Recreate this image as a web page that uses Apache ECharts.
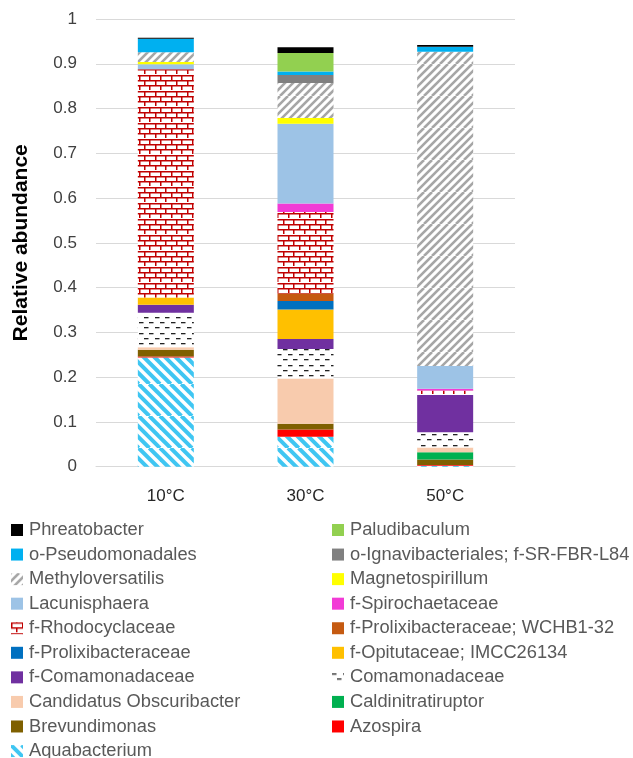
<!DOCTYPE html>
<html>
<head>
<meta charset="utf-8">
<script src="https://cdn.jsdelivr.net/npm/echarts@6/dist/echarts.min.js"></script>
<style>html,body{margin:0;padding:0;background:#fff;overflow:hidden}#c{width:633px;height:790px}</style>
</head>
<body>
<div id="c"></div>
<script>
// ---- data ----
var categories = ['10°C', '30°C', '50°C'];
var yTicks = [0, 0.1, 0.2, 0.3, 0.4, 0.5, 0.6, 0.7, 0.8, 0.9, 1];
// values per series, order: 10°C, 30°C, 50°C (bottom of stack first)
var aquabacterium      = [0.244, 0.067, 0.002];
var azospira           = [0.002, 0.016, 0.002];
var brevundimonas      = [0.015, 0.013, 0.012];
var caldinitratiruptor = [0.000, 0.000, 0.016];
var candidatusObscuri  = [0.006, 0.101, 0.011];
var comamonadaceae     = [0.077, 0.066, 0.034];
var fComamonadaceae    = [0.018, 0.022, 0.083];
var fOpitutaceae       = [0.016, 0.066, 0.000];
var fProlixibacter     = [0.000, 0.019, 0.000];
var fProlixWCHB        = [0.000, 0.017, 0.000];
var fRhodocyclaceae    = [0.510, 0.182, 0.010];
var fSpirochaetaceae   = [0.000, 0.019, 0.004];
var lacunisphaera      = [0.011, 0.178, 0.051];
var magnetospirillum   = [0.005, 0.013, 0.000];
var methyloversatilis  = [0.022, 0.078, 0.702];
var oIgnavibacteriales = [0.000, 0.018, 0.000];
var oPseudomonadales   = [0.030, 0.008, 0.011];
var paludibaculum      = [0.000, 0.041, 0.000];
var phreatobacter      = [0.002, 0.013, 0.004];

var seriesNames = [
  'Aquabacterium', 'Azospira', 'Brevundimonas', 'Caldinitratiruptor',
  'Candidatus Obscuribacter', 'Comamonadaceae', 'f-Comamonadaceae',
  'f-Opitutaceae; IMCC26134', 'f-Prolixibacteraceae', 'f-Prolixibacteraceae; WCHB1-32',
  'f-Rhodocyclaceae', 'f-Spirochaetaceae', 'Lacunisphaera', 'Magnetospirillum',
  'Methyloversatilis', 'o-Ignavibacteriales; f-SR-FBR-L84', 'o-Pseudomonadales',
  'Paludibaculum', 'Phreatobacter'
];
var seriesValues = [
  aquabacterium, azospira, brevundimonas, caldinitratiruptor, candidatusObscuri,
  comamonadaceae, fComamonadaceae, fOpitutaceae, fProlixibacter, fProlixWCHB,
  fRhodocyclaceae, fSpirochaetaceae, lacunisphaera, magnetospirillum,
  methyloversatilis, oIgnavibacteriales, oPseudomonadales, paludibaculum, phreatobacter
];
var legendLeft = ['Phreatobacter', 'o-Pseudomonadales', 'Methyloversatilis', 'Lacunisphaera',
  'f-Rhodocyclaceae', 'f-Prolixibacteraceae', 'f-Comamonadaceae', 'Candidatus Obscuribacter',
  'Brevundimonas', 'Aquabacterium'];
var legendRight = ['Paludibaculum', 'o-Ignavibacteriales; f-SR-FBR-L84', 'Magnetospirillum',
  'f-Spirochaetaceae', 'f-Prolixibacteraceae; WCHB1-32', 'f-Opitutaceae; IMCC26134',
  'Comamonadaceae', 'Caldinitratiruptor', 'Azospira'];

// ---- patterns ----
function tile(draw) {
  var c = document.createElement('canvas');
  c.width = 32; c.height = 32;
  var g = c.getContext('2d');
  g.fillStyle = '#ffffff'; g.fillRect(0, 0, 32, 32);
  draw(g);
  return { image: c, repeat: 'repeat' };
}
function diag(color, period, width, up) {
  return tile(function (g) {
    g.strokeStyle = color; g.lineWidth = width;
    for (var k = -64; k <= 64; k += period) {
      g.beginPath();
      if (up) { g.moveTo(k, 32); g.lineTo(k + 32, 0); }
      else { g.moveTo(k, 0); g.lineTo(k + 32, 32); }
      g.stroke();
    }
  });
}
var brick = tile(function (g) {
  g.fillStyle = '#C00000';
  var rh = 32 / 6, bw = 32 / 3;
  for (var r = 0; r < 6; r++) {
    var y = Math.round(r * rh);
    g.fillRect(0, y, 32, 1.5);
    var off = (r % 2) ? bw / 2 : 0;
    for (var b = -1; b < 4; b++) {
      var x = Math.round(off + b * bw);
      g.fillRect(x, y, 1.5, Math.round(rh));
    }
  }
});
var dashes = tile(function (g) {
  g.fillStyle = '#222222';
  var rh = 32 / 6, bw = 32 / 3;
  for (var r = 0; r < 6; r++) {
    var y = Math.round(r * rh + 2);
    var off = (r % 2) ? bw / 2 : 0;
    for (var b = -1; b < 4; b++) {
      var x = Math.round(off + b * bw);
      g.fillRect(x, y, 4.5, 1.3);
    }
  }
});

var colorMap = {
  'Aquabacterium': diag('#3FC6F2', 32 / 3, 4, false),
  'Azospira': '#FF0000',
  'Brevundimonas': '#7F6000',
  'Caldinitratiruptor': '#00B050',
  'Candidatus Obscuribacter': '#F8CBAD',
  'Comamonadaceae': dashes,
  'f-Comamonadaceae': '#7030A0',
  'f-Opitutaceae; IMCC26134': '#FFC000',
  'f-Prolixibacteraceae': '#0070C0',
  'f-Prolixibacteraceae; WCHB1-32': '#C55A11',
  'f-Rhodocyclaceae': brick,
  'f-Spirochaetaceae': '#F23BD6',
  'Lacunisphaera': '#9DC3E6',
  'Magnetospirillum': '#FFFF00',
  'Methyloversatilis': diag('#A6A6A6', 8, 2.6, true),
  'o-Ignavibacteriales; f-SR-FBR-L84': '#808080',
  'o-Pseudomonadales': '#00B0F0',
  'Paludibaculum': '#92D050',
  'Phreatobacter': '#000000'
};

var series = seriesNames.map(function (n, i) {
  return {
    name: n, type: 'bar', stack: 'total', barWidth: 56,
    itemStyle: { color: colorMap[n] },
    emphasis: { disabled: true },
    data: seriesValues[i]
  };
});

var legendCommon = {
  orient: 'vertical', itemWidth: 12, itemHeight: 12, itemGap: 4.56, padding: 0,
  icon: 'rect', selectedMode: false,
  textStyle: { fontFamily: 'Liberation Sans', fontSize: 18.3, color: '#595959', lineHeight: 20, padding: [0, 0, 0, 1] }
};

var chart = echarts.init(document.getElementById('c'), null, { renderer: 'canvas' });
chart.setOption({
  animation: false,
  backgroundColor: '#ffffff',
  grid: { left: 96, right: 118, top: 19, bottom: 790 - 466.7, containLabel: false },
  xAxis: {
    type: 'category', data: categories,
    axisLine: { lineStyle: { color: '#D9D9D9' } },
    axisTick: { show: false },
    axisLabel: { margin: 21, fontFamily: 'Liberation Sans', fontSize: 17, color: '#262626' }
  },
  yAxis: {
    type: 'value', min: yTicks[0], max: yTicks[yTicks.length - 1], interval: 0.1,
    name: 'Relative abundance', nameLocation: 'middle', nameGap: 64,
    nameTextStyle: { fontFamily: 'Liberation Sans', fontSize: 21, fontWeight: 'bold', color: '#000000' },
    axisLine: { show: false }, axisTick: { show: false },
    splitLine: { lineStyle: { color: '#D9D9D9', width: 1 } },
    axisLabel: { margin: 19, fontFamily: 'Liberation Sans', fontSize: 17, color: '#404040',
      formatter: function (v) { return String(Math.round(v * 10) / 10); } }
  },
  legend: [
    Object.assign({ left: 11, top: 520, data: legendLeft }, legendCommon),
    Object.assign({ left: 332, top: 520, data: legendRight }, legendCommon)
  ],
  series: series
});
</script>
</body>
</html>
